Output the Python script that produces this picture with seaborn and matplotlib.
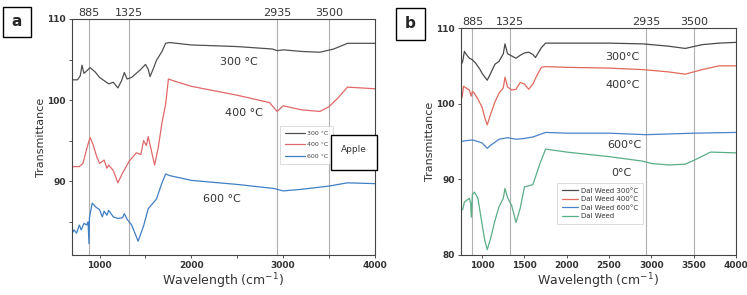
import numpy as np
import pandas as pd
import matplotlib
matplotlib.use("Agg")
import matplotlib.pyplot as plt
import seaborn as sns
from matplotlib.patches import Rectangle

sns.set_theme(style="white")
plt.rcParams['font.family'] = ['DejaVu Sans']

# ---------------- Panel a (Apple) ----------------
a300_x = [700, 760, 790, 809, 830, 860, 897, 950, 1000, 1050, 1100, 1150, 1200, 1240, 1270, 1300, 1350, 1400, 1450, 1500, 1530, 1550, 1590, 1620, 1680, 1720, 1760, 2000, 2500, 2880, 2935, 3000, 3200, 3400, 3550, 3700, 4000]
a300_y = [102.5, 102.5, 103.0, 104.3, 103.3, 103.6, 104.0, 103.5, 102.8, 102.4, 102.0, 102.2, 101.5, 102.4, 103.4, 102.6, 102.8, 103.3, 103.8, 104.4, 103.8, 102.9, 104.0, 104.9, 106.0, 107.0, 107.1, 106.8, 106.6, 106.3, 106.1, 106.2, 106.0, 105.9, 106.3, 107.0, 107.0]

a400_x = [700, 780, 820, 860, 897, 930, 970, 1000, 1050, 1080, 1100, 1150, 1200, 1250, 1325, 1400, 1450, 1480, 1510, 1530, 1560, 1600, 1640, 1680, 1720, 1750, 1800, 2000, 2500, 2850, 2935, 3000, 3200, 3400, 3500, 3600, 3700, 4000]
a400_y = [91.8, 91.8, 92.2, 94.0, 95.4, 94.5, 93.0, 92.2, 92.6, 91.6, 92.0, 91.3, 89.8, 91.0, 92.5, 93.5, 93.3, 95.0, 94.4, 95.5, 94.0, 92.0, 94.2, 97.2, 99.5, 102.6, 102.4, 101.7, 100.6, 99.7, 98.6, 99.3, 98.8, 98.6, 99.2, 100.3, 101.6, 101.4]

a600_x = [700, 720, 750, 780, 800, 830, 860, 875, 885, 890, 920, 960, 1000, 1030, 1050, 1080, 1100, 1150, 1200, 1250, 1270, 1300, 1350, 1420, 1480, 1530, 1560, 1620, 1680, 1720, 1760, 2000, 2500, 2900, 3000, 3200, 3500, 3700, 4000]
a600_y = [83.5, 84.0, 83.6, 84.6, 84.0, 84.8, 84.6, 85.0, 82.3, 85.5, 87.3, 86.8, 86.5, 85.6, 86.3, 85.8, 86.4, 85.6, 85.4, 85.5, 86.0, 85.3, 84.6, 82.6, 84.5, 86.6, 87.0, 87.8, 89.8, 90.9, 90.7, 90.1, 89.6, 89.1, 88.8, 89.0, 89.4, 89.8, 89.7]

# ---------------- Panel b (Dal Weed) ----------------
b300_x = [750, 770, 790, 820, 850, 885, 920, 970, 1000, 1060, 1100, 1150, 1200, 1250, 1270, 1300, 1350, 1400, 1450, 1500, 1550, 1600, 1630, 1700, 1750, 2000, 2500, 2900, 3200, 3400, 3600, 3800, 4000]
b300_y = [105.1, 105.6, 106.9, 106.4, 106.0, 105.8, 105.4, 104.6, 104.0, 103.1, 104.0, 105.2, 105.6, 106.6, 107.9, 106.6, 106.3, 106.0, 106.4, 106.7, 106.8, 106.5, 106.1, 107.4, 108.0, 108.0, 108.0, 107.9, 107.6, 107.3, 107.8, 108.0, 108.1]

b400_x = [750, 765, 780, 820, 850, 870, 885, 900, 950, 1000, 1030, 1060, 1100, 1150, 1200, 1250, 1270, 1300, 1350, 1400, 1450, 1500, 1550, 1600, 1650, 1700, 1750, 2000, 2500, 2900, 3200, 3400, 3600, 3800, 4000]
b400_y = [100.5, 101.0, 102.3, 102.0, 101.8, 101.0, 101.6, 101.5, 100.6, 99.5, 98.2, 97.2, 98.6, 100.2, 101.4, 102.1, 103.5, 102.2, 101.8, 101.9, 102.8, 102.6, 101.9, 102.6, 103.8, 104.8, 104.9, 104.8, 104.7, 104.5, 104.2, 103.9, 104.5, 105.0, 105.0]

b600_x = [750, 800, 885, 950, 1000, 1060, 1100, 1200, 1300, 1400, 1500, 1600, 1700, 1750, 2000, 2500, 2935, 3500, 4000]
b600_y = [95.0, 95.1, 95.2, 95.0, 94.8, 94.1, 94.5, 95.3, 95.5, 95.3, 95.4, 95.6, 96.0, 96.2, 96.1, 96.1, 95.9, 96.1, 96.2]

b0_x = [750, 770, 790, 850, 865, 872, 885, 910, 950, 1000, 1030, 1060, 1100, 1150, 1200, 1250, 1270, 1300, 1350, 1400, 1450, 1500, 1600, 1680, 1750, 2000, 2500, 2900, 3000, 3200, 3400, 3500, 3700, 4000]
b0_y = [86.0, 86.0, 87.0, 87.5, 86.8, 85.0, 88.0, 88.3, 87.5, 84.0, 82.0, 80.7, 82.2, 84.5, 86.4, 87.5, 88.8, 87.6, 86.5, 84.3, 86.2, 89.0, 89.3, 92.0, 94.0, 93.6, 93.0, 92.4, 92.1, 91.9, 92.0, 92.5, 93.6, 93.5]

marker_positions = [885, 1325, 2935, 3500]
marker_labels = ["885", "1325", "2935", "3500"]

a_labels = ["300 °C", "400 °C", "600 °C"]
b_labels = ["Dal Weed 300°C", "Dal Weed 400°C", "Dal Weed 600°C", "Dal Weed"]

df_a = pd.concat([
    pd.DataFrame({"x": a300_x, "y": a300_y, "s": a_labels[0]}),
    pd.DataFrame({"x": a400_x, "y": a400_y, "s": a_labels[1]}),
    pd.DataFrame({"x": a600_x, "y": a600_y, "s": a_labels[2]}),
])
df_b = pd.concat([
    pd.DataFrame({"x": b300_x, "y": b300_y, "s": b_labels[0]}),
    pd.DataFrame({"x": b400_x, "y": b400_y, "s": b_labels[1]}),
    pd.DataFrame({"x": b600_x, "y": b600_y, "s": b_labels[2]}),
    pd.DataFrame({"x": b0_x, "y": b0_y, "s": b_labels[3]}),
])

pal_a = {a_labels[0]: "#505050", a_labels[1]: "#e0686a", a_labels[2]: "#3f7fc4"}
pal_b = {b_labels[0]: "#4a4a4a", b_labels[1]: "#e06a5c", b_labels[2]: "#4a82c8", b_labels[3]: "#5aae86"}

fig = plt.figure(figsize=(7.47, 2.95), dpi=100)
W, H = 747, 295
def ax_rect(l, t, r, b):
    return [l / W, 1 - b / H, (r - l) / W, (b - t) / H]

ax1 = fig.add_axes(ax_rect(72, 19, 375, 255))
ax2 = fig.add_axes(ax_rect(461, 28, 736, 255))

sns.lineplot(data=df_a, x="x", y="y", hue="s", palette=pal_a, sort=False,
             estimator=None, lw=0.9, ax=ax1)
sns.lineplot(data=df_b, x="x", y="y", hue="s", palette=pal_b, sort=False,
             estimator=None, lw=0.9, ax=ax2)

ax1.set_xlim(700, 4000)
ax1.set_ylim(80.9, 110)
ax2.set_xlim(750, 4000)
ax2.set_ylim(80, 110)

ax1.set_xticks([1000, 2000, 3000, 4000])
ax1.set_xticks([1500, 2500, 3500], minor=True)
ax1.set_yticks([90, 100, 110])
ax1.set_yticks([85, 95, 105], minor=True)
ax2.set_xticks([1000, 1500, 2000, 2500, 3000, 3500, 4000])
ax2.set_yticks([80, 90, 100, 110])

for ax in (ax1, ax2):
    for sp in ax.spines.values():
        sp.set_color("#444444")
        sp.set_linewidth(0.8)
    ax.tick_params(axis="both", which="both", direction="out", length=2.5, width=0.6,
                   colors="#333333", labelsize=6.5, pad=2, bottom=True, left=True)
    for lab in ax.get_xticklabels() + ax.get_yticklabels():
        lab.set_fontweight("bold")
    ax.set_xlabel("Wavelength (cm$^{-1}$)", fontsize=9, color="#333333", labelpad=1)
    ax.set_ylabel("Transmittance", fontsize=8, color="#333333", labelpad=1)
    for xp, lb in zip(marker_positions, marker_labels):
        ax.axvline(xp, color="#b0b0b0", lw=0.8, zorder=0)
        ax.text(xp, 1.005, lb, transform=ax.get_xaxis_transform(), ha="center",
                va="bottom", fontsize=8, color="#333333")

# Panel a annotations
ax1.text(2520, 104.7, "300 °C", fontsize=8, color="#333333", ha="center", va="center")
ax1.text(2570, 98.4, "400 °C", fontsize=8, color="#333333", ha="center", va="center")
ax1.text(2330, 87.8, "600 °C", fontsize=8, color="#333333", ha="center", va="center")

# Panel b annotations
ax2.text(2660, 106.2, "300°C", fontsize=8, color="#333333", ha="center", va="center")
ax2.text(2660, 102.5, "400°C", fontsize=8, color="#333333", ha="center", va="center")
ax2.text(2680, 94.5, "600°C", fontsize=8, color="#333333", ha="center", va="center")
ax2.text(2640, 90.8, "0°C", fontsize=8, color="#333333", ha="center", va="center")

# Legends
leg1 = ax1.legend(loc="upper left", bbox_to_anchor=((282 - 72) / 303, 1 - (128 - 19) / 236),
                  fontsize=4.5, frameon=True, handlelength=3.2, labelspacing=0.95,
                  borderpad=0.45, handletextpad=0.3, borderaxespad=0)
leg1.get_frame().set_edgecolor("#cccccc")
leg1.get_frame().set_linewidth(0.6)
leg1.get_frame().set_boxstyle("square")
for t in leg1.get_texts():
    t.set_color("#444444")

leg2 = ax2.legend(loc="upper left", bbox_to_anchor=((559 - 461) / 275, 1 - (185 - 28) / 227),
                  fontsize=5.0, frameon=True, handlelength=2.4, labelspacing=0.35,
                  borderpad=0.4, handletextpad=0.3, borderaxespad=0)
leg2.get_frame().set_edgecolor("#cccccc")
leg2.get_frame().set_linewidth(0.6)
leg2.get_frame().set_boxstyle("square")
for t in leg2.get_texts():
    t.set_color("#333333")

# "Apple" box
fig.patches.append(Rectangle((331 / W, 1 - 170 / H), 46 / W, 35 / H, transform=fig.transFigure,
                             fill=True, facecolor="white", edgecolor="black", lw=1.0, zorder=5))
fig.text(354 / W, 1 - 149 / H, "Apple", fontsize=6.5, ha="center", va="center", color="#333333", zorder=6)

# Panel letters in boxes
fig.patches.append(Rectangle((3 / W, 1 - 37 / H), 28 / W, 30 / H, transform=fig.transFigure,
                             fill=False, edgecolor="black", lw=1.0))
fig.text(17 / W, 1 - 22 / H, "a", fontsize=11, fontweight="bold", ha="center", va="center")
fig.patches.append(Rectangle((396 / W, 1 - 40 / H), 29 / W, 32 / H, transform=fig.transFigure,
                             fill=False, edgecolor="black", lw=1.0))
fig.text(410.5 / W, 1 - 24 / H, "b", fontsize=11, fontweight="bold", ha="center", va="center")

fig.savefig("out.png", dpi=100)
